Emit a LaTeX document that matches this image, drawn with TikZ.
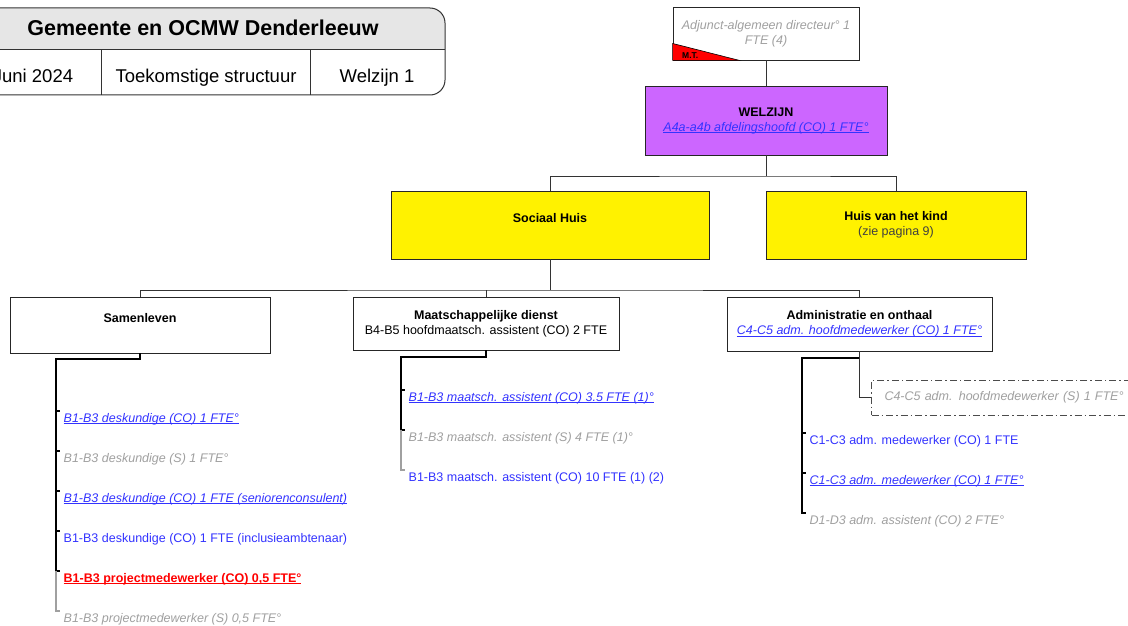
\documentclass[tikz,border=0pt]{standalone}
\usepackage{fontspec}
\setmainfont{Liberation Sans}
\definecolor{wzpurple}{RGB}{204,102,255}
\definecolor{linkblue}{RGB}{51,51,255}
\definecolor{vacgray}{RGB}{160,160,160}
\definecolor{titlegray}{RGB}{230,230,230}
\newcommand{\boxfont}{\fontsize{12.5}{15}\selectfont}
\newcommand{\onder}[1]{\setbox0\hbox{#1}\rlap{\rule[-1.4pt]{\wd0}{0.6pt}}\box0}
\newcommand{\linkco}[1]{{\color{linkblue}\itshape\onder{#1}}}
\newcommand{\vacant}[1]{{\color{vacgray}\itshape #1}}
\newcommand{\plainco}[1]{{\color{linkblue}#1}}
\newcommand{\nieuw}[1]{{\color{red}\bfseries\onder{#1}}}
\tikzset{
	box/.style={draw=black!85, line width=0.9pt, align=center, inner sep=0pt, font=\boxfont},
	sbox/.style={anchor=west, draw=black!70, line width=1pt, dash pattern=on 7pt off 3pt on 1.5pt off 3pt, minimum height=35pt, text width=260pt, align=left, inner xsep=13pt, font=\boxfont},
	item/.style={anchor=north west, inner xsep=3.5pt, inner ysep=2pt, text height=9pt, text depth=3pt, font=\boxfont},
	lijn/.style={line width=1pt, black!80},
	lijst/.style={line width=1.3pt, black},
}
\begin{document}
\begin{tikzpicture}[x=1pt,y=-1pt]
	\useasboundingbox[fill=white] (0,0) rectangle (1128,626);
	\begin{scope}
		\clip[rounded corners=15pt] (-40,8) rectangle (445,95);
		\fill[titlegray] (-40,8) rectangle (445,50);
	\end{scope}
	\draw[line width=1pt, black!80, rounded corners=15pt] (-40,8) rectangle (445,95);
	\draw[line width=1pt, black!80] (-40,50) -- (445,50) (101,50) -- (101,95) (310,50) -- (310,95);
	\node[anchor=base, font=\fontsize{21.5}{24}\selectfont\bfseries] (titel) at (203,36) {Gemeente en OCMW Denderleeuw};
	\node[anchor=base, font=\fontsize{18.5}{21}\selectfont] (datum) at (33,82) {Juni 2024};
	\node[anchor=base, font=\fontsize{18.5}{21}\selectfont] (status) at (206,82) {Toekomstige structuur};
	\node[anchor=base, font=\fontsize{18.5}{21}\selectfont] (pagina) at (377,82) {Welzijn 1};

	\node[box, fill=white, minimum width=186pt, minimum height=53pt] (adj) at (766,33.5) {\vacant{Adjunct-algemeen directeur° 1}\\\vacant{FTE (4)}};
	\draw[fill=red, line width=0.6pt] (adj.south west) -- ++(0,-17) -- ++(67,17) -- cycle;
	\node[anchor=base west, inner sep=0pt, font=\fontsize{8.5}{9}\selectfont\bfseries] (mt) at (682,59) {M.T.};
	\node[box, fill=wzpurple, minimum width=242pt, minimum height=69pt] (wz) at (766,120.5) {\textbf{WELZIJN}\\\linkco{A4a-a4b afdelingshoofd (CO) 1 FTE°}};
	\node[box, fill=yellow, minimum width=318pt, minimum height=68pt] (sh) at (550,225) {\textbf{Sociaal Huis}\\\mbox{}};
	\node[box, fill=yellow, minimum width=260pt, minimum height=68pt] (hvk) at (896,225) {\textbf{Huis van het kind}\\{\color{black!75}(zie pagina 9)}};
	\node[box, minimum width=260pt, minimum height=56pt] (sam) at (140,325) {\textbf{Samenleven}\\\mbox{}};
	\node[box, minimum width=266pt, minimum height=53pt] (md) at (486,323.5) {\textbf{Maatschappelijke dienst}\\B4-B5 hoofdmaatsch. assistent (CO) 2 FTE};
	\node[box, minimum width=265pt, minimum height=54pt] (ao) at (859.5,324) {\textbf{Administratie en onthaal}\\\linkco{C4-C5 adm. hoofdmedewerker (CO) 1 FTE°}};

	\coordinate (wzbus) at (766,176);
	\coordinate (shbus) at (550,290);
	\draw[lijn] (adj) -- (wz);
	\draw[lijn] (wz) -- (wzbus);
	\draw[lijn] (sh.north) |- (wzbus) -| (hvk.north);
	\draw[lijn] (sh) -- (shbus);
	\draw[lijn] (sam.north) |- (shbus) -| (ao.north);
	\draw[lijn] (md.north) -- (md.north |- shbus);

	\node[item] (sam1) at (60,411) {\linkco{B1-B3 deskundige (CO) 1 FTE°}};
	\node[item] (sam2) at (60,451) {\vacant{B1-B3 deskundige (S) 1 FTE°}};
	\node[item] (sam3) at (60,491) {\linkco{B1-B3 deskundige (CO) 1 FTE (seniorenconsulent)}};
	\node[item] (sam4) at (60,531) {\plainco{B1-B3 deskundige (CO) 1 FTE (inclusieambtenaar)}};
	\node[item] (sam5) at (60,571) {\nieuw{B1-B3 projectmedewerker (CO) 0,5 FTE°}};
	\node[item] (sam6) at (60,611) {\vacant{B1-B3 projectmedewerker (S) 0,5 FTE°}};
	\coordinate (samlijst) at (56,359);
	\draw[lijst] (sam.south) |- (samlijst) |- (sam1.north west) (samlijst) |- (sam2.north west) (samlijst) |- (sam3.north west) (samlijst) |- (sam4.north west) (samlijst) |- (sam5.north west);
	\draw[lijst, vacgray] (sam5.north west -| samlijst) |- (sam6.north west);

	\node[item] (md1) at (405,390) {\linkco{B1-B3 maatsch. assistent (CO) 3.5 FTE (1)°}};
	\node[item] (md2) at (405,430) {\vacant{B1-B3 maatsch. assistent (S) 4 FTE (1)°}};
	\node[item] (md3) at (405,470) {\plainco{B1-B3 maatsch. assistent (CO) 10 FTE (1) (2)}};
	\coordinate (mdlijst) at (401,357);
	\draw[lijst] (md.south) |- (mdlijst) |- (md1.north west) (mdlijst) |- (md2.north west);
	\draw[lijst, vacgray] (md2.north west -| mdlijst) |- (md3.north west);

	\node[sbox] (aoS) at (871,397.5) {\vacant{C4-C5 adm. hoofdmedewerker (S) 1 FTE°}};
	\node[item] (ao1) at (806,433) {\plainco{C1-C3 adm. medewerker (CO) 1 FTE}};
	\node[item] (ao2) at (806,473) {\linkco{C1-C3 adm. medewerker (CO) 1 FTE°}};
	\node[item] (ao3) at (806,513) {\vacant{D1-D3 adm. assistent (CO) 2 FTE°}};
	\coordinate (aolijst) at (802,358);
	\draw[lijst] (ao.south) |- (aolijst) |- (ao1.north west) (aolijst) |- (ao2.north west) (aolijst) |- (ao3.north west);
	\draw[lijn] (ao.south) |- (aoS.west);
\end{tikzpicture}
\end{document}
